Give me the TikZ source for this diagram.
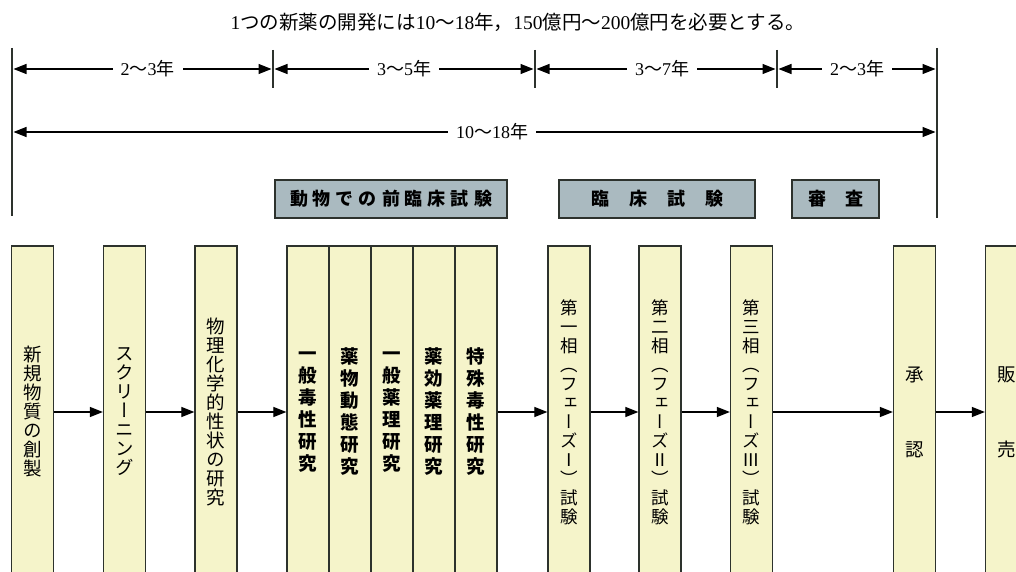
\documentclass[tikz,border=0pt]{standalone}
\usepackage{fontspec}
\setmainfont{Liberation Serif}
\newfontfamily\cjk{Noto Sans CJK JP}
\newfontfamily\cjkv[RawFeature=+vert]{Noto Sans CJK JP}
\usetikzlibrary{arrows.meta}
\definecolor{colfill}{RGB}{245,244,202}
\definecolor{hdrfill}{RGB}{170,186,192}
\definecolor{edge}{RGB}{45,50,45}
\newcommand\hs{\hspace{5pt}}
\begin{document}
\begin{tikzpicture}[x=1pt,y=-1pt,
  col/.style={draw=edge, line width=1.3pt, fill=colfill, minimum width=42pt,
    minimum height=332pt, inner sep=0pt, align=center,
    font=\cjkv\fontsize{18.5}{19}\selectfont},
  colp/.style={col, font=\cjkv\fontsize{17.5}{19}\selectfont},
  colb/.style={col, font=\cjkv\bfseries\fontsize{18.5}{22}\selectfont},
  hdr/.style={draw=edge, line width=1.5pt, fill=hdrfill, minimum height=38pt,
    inner sep=0pt, font=\cjk\bfseries\fontsize{18}{18}\selectfont},
  conn/.style={draw=black, line width=1.2pt, -{Triangle[length=13pt,width=10pt]}},
  spanarr/.style={draw=black, line width=1.2pt,
    {Triangle[length=13pt,width=10pt]}-{Triangle[length=13pt,width=10pt]},
    shorten <=1.5pt, shorten >=1.5pt},
  lab/.style={fill=white, inner xsep=8pt, inner ysep=2pt, font=\fontsize{18}{18}\selectfont},
  vline/.style={draw=edge, line width=1.4pt}]

\useasboundingbox (0,0) rectangle (1016,572);
\fill[white] (0,0) rectangle (1016,572);

% title
\node (title) at (518,22) {\fontsize{19.5}{19.5}\selectfont 1{\cjk つの新薬の開発には}10{\cjk 〜}18{\cjk 年，}150{\cjk 億円〜}200{\cjk 億円を必要とする。}};

% vertical lines
\coordinate (L0) at (12,48);  \coordinate (L1) at (12,216);
\coordinate (R0) at (937,48); \coordinate (R1) at (937,218);
\coordinate (t1a) at (273,50); \coordinate (t1b) at (273,88);
\coordinate (t2a) at (535,50); \coordinate (t2b) at (535,88);
\coordinate (t3a) at (777,50); \coordinate (t3b) at (777,88);
\draw[vline] (L0) -- (L1);
\draw[vline] (R0) -- (R1);
\draw[vline] (t1a) -- (t1b);
\draw[vline] (t2a) -- (t2b);
\draw[vline] (t3a) -- (t3b);

% span arrows
\coordinate (a0) at (12,69);  \coordinate (a1) at (273,69);
\coordinate (a2) at (535,69); \coordinate (a3) at (777,69);
\coordinate (a4) at (937,69);
\draw[spanarr] (a0) -- node[lab, pos=0.52] (s1) {2{\cjk 〜}3{\cjk 年}} (a1);
\draw[spanarr] (a1) -- node[lab, pos=0.50] (s2) {3{\cjk 〜}5{\cjk 年}} (a2);
\draw[spanarr] (a2) -- node[lab, pos=0.525] (s3) {3{\cjk 〜}7{\cjk 年}} (a3);
\draw[spanarr] (a3) -- node[lab, pos=0.50] (s4) {2{\cjk 〜}3{\cjk 年}} (a4);
\coordinate (b0) at (12,132); \coordinate (b1) at (937,132);
\draw[spanarr] (b0) -- node[lab, pos=0.519] (s5) {10{\cjk 〜}18{\cjk 年}} (b1);

% header boxes
\node[hdr, minimum width=232pt] (h1) at (391,199) {動\hs 物\hs で\hs の\hs 前\hs 臨\hs 床\hs 試\hs 験};
\node[hdr, minimum width=196pt] (h2) at (657,199) {臨\hspace{20pt}床\hspace{20pt}試\hspace{20pt}験};
\node[hdr, minimum width=87pt] (h3) at (835.5,199) {審\hspace{19pt}査};

% columns
\node[col] (c1) at (32.5,412) {新\\規\\物\\質\\の\\創\\製};
\node[col] (c2) at (124.5,412) {ス\\ク\\リ\\ー\\ニ\\ン\\グ};
\node[col] (c3) at (216,412) {物\\理\\化\\学\\的\\性\\状\\の\\研\\究};
\node[colb] (c4) at (308,412) {一\\般\\毒\\性\\研\\究};
\node[colb] (c5) at (350,412) {薬\\物\\動\\態\\研\\究};
\node[colb] (c6) at (392,412) {一\\般\\薬\\理\\研\\究};
\node[colb] (c7) at (434,412) {薬\\効\\薬\\理\\研\\究};
\node[colb] (c8) at (476,412) {特\\殊\\毒\\性\\研\\究};
\node[colp] (c9) at (569,412) {第\\一\\相\\（\\フ\\ェ\\ー\\ズ\\Ⅰ\\）\\試\\験};
\node[colp] (c10) at (660,412) {第\\二\\相\\（\\フ\\ェ\\ー\\ズ\\Ⅱ\\）\\試\\験};
\node[colp] (c11) at (751.5,412) {第\\三\\相\\（\\フ\\ェ\\ー\\ズ\\Ⅲ\\）\\試\\験};
\node[col] (c12) at (914.5,412) {承\\[56pt]認};
\node[col] (c13) at (1006.5,412) {販\\[56pt]売};

% connectors
\draw[conn] (c1) -- (c2);
\draw[conn] (c2) -- (c3);
\draw[conn] (c3) -- (c4);
\draw[conn] (c8) -- (c9);
\draw[conn] (c9) -- (c10);
\draw[conn] (c10) -- (c11);
\draw[conn] (c11) -- (c12);
\draw[conn] (c12) -- (c13);
\end{tikzpicture}
\end{document}
